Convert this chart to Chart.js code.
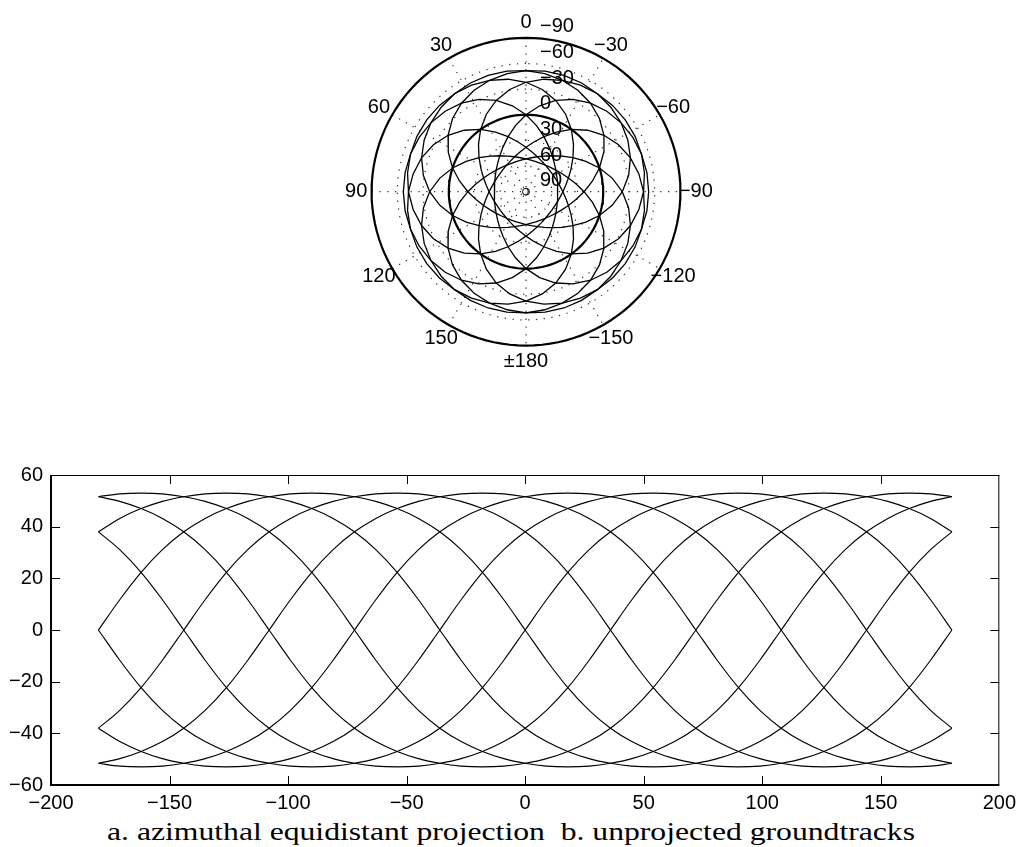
<!DOCTYPE html>
<html><head><meta charset="utf-8">
<script src="https://cdn.jsdelivr.net/npm/chart.js@4.4.1/dist/chart.umd.min.js"></script>
<style>
html,body{margin:0;padding:0;background:#fff;width:1022px;height:847px;overflow:hidden;}
#polar{position:absolute;left:306px;top:0;}
#track{position:absolute;left:0;top:455px;}
#caption{position:absolute;top:818.6px;left:0;font-family:'Liberation Serif','Times New Roman',serif;font-size:25px;line-height:25px;white-space:pre;color:#000;transform-origin:center center;}
</style></head><body>
<canvas id="polar" width="440" height="384"></canvas>
<canvas id="track" width="1022" height="360"></canvas>
<div id="caption">a. azimuthal equidistant projection  b. unprojected groundtracks</div>
<script>
// ---------- data ----------
const lonGrid = [-180,-171,-162,-153,-144,-135,-126,-117,-108,-99,-90,-81,-72,-63,-54,-45,-36,-27,-18,-9,0,9,18,27,36,45,54,63,72,81,90,99,108,117,126,135,144,153,162,171,180];
// ascending-node longitudes of the ten groundtracks
const nodeLongitudes = [-180,-144,-108,-72,-36,0,36,72,108,144];
// latitude along a track, every 9 degrees of longitude after its ascending node
const latProfile = [0,11.7,22.3,31.1,38.0,43.2,47.0,49.8,51.6,52.7,53.0,52.7,51.6,49.8,47.0,43.2,38.0,31.1,22.3,11.7,
                    0,-11.7,-22.3,-31.1,-38.0,-43.2,-47.0,-49.8,-51.6,-52.7,-53.0,-52.7,-51.6,-49.8,-47.0,-43.2,-38.0,-31.1,-22.3,-11.7];
const xTicks = [-200,-150,-100,-50,0,50,100,150,200];
const yTicks = [-60,-40,-20,0,20,40,60];
const angleLabels = ['0','30','60','90','120','150','\u00b1180','\u2212150','\u2212120','\u221290','\u221260','\u221230'];
const angleLabelLon = [0,30,60,90,120,150,180,210,240,270,300,330];
const radialLabels = ['90','60','30','0','\u221230','\u221260','\u221290'];
const radialLabelLat = [90,60,30,0,-30,-60,-90];
const gridLat = [60,30,0,-30,-60];
const spokeLon = [0,30,60,90,120,150];
const equatorLat = 0;
const boundaryLat = -90;

// ---------- build tables ----------
const STEP = 9;
function profileAt(lon, node){
  const n = latProfile.length;
  const i = ((Math.round((lon - node)/STEP) % n) + n) % n;
  return latProfile[i];
}
const tracks = nodeLongitudes.map(node => lonGrid.map(lon => ({lon: lon, lat: profileAt(lon, node)})));

function toXY(lon, lat){
  const r = 90 - lat, t = lon*Math.PI/180;
  return {x: -r*Math.sin(t), y: r*Math.cos(t)};
}
function circle(lat){
  const pts = [];
  for (let a = 0; a <= 360; a += 3) pts.push(toXY(a, lat));
  return pts;
}
const fmt = v => (v < 0 ? '\u2212' + Math.abs(v) : String(v));
const FONT = '"Liberation Sans", Arial, Helvetica, sans-serif';

// ---------- polar (azimuthal equidistant) ----------
const K = 0.8778; // px per degree
const pDatasets = [];
tracks.forEach(t => pDatasets.push({data: t.map(p => toXY(p.lon, p.lat)), showLine:true, borderColor:'#000', borderWidth:1.3, pointRadius:0, fill:false, tension:0}));
pDatasets.push({data: circle(equatorLat), showLine:true, borderColor:'#000', borderWidth:2.2, pointRadius:0, fill:false});
pDatasets.push({data: circle(boundaryLat), showLine:true, borderColor:'#000', borderWidth:2.2, pointRadius:0, fill:false});
pDatasets.push({data:[{x:0,y:0}], showLine:false, pointRadius:3.5, pointBorderWidth:1, pointBorderColor:'#000', pointBackgroundColor:'rgba(0,0,0,0)'});
gridLat.forEach(lat => pDatasets.push({data: circle(lat), showLine:true, borderColor:'#333', borderWidth:1.2, borderDash:[1.3,6.5], pointRadius:0, fill:false}));
spokeLon.forEach(a => pDatasets.push({data:[toXY(a, boundaryLat), toXY(a+180, boundaryLat)], showLine:true, borderColor:'#333', borderWidth:1.2, borderDash:[1.3,6.5], pointRadius:0, fill:false}));

const polarLabels = {
  id:'polarLabels',
  afterDraw(chart){
    const ctx = chart.ctx, xs = chart.scales.x, ys = chart.scales.y;
    ctx.save();
    ctx.fillStyle = '#000';
    ctx.font = '20px ' + FONT;
    ctx.textAlign = 'center'; ctx.textBaseline = 'middle';
    angleLabels.forEach((s, i) => {
      const t = angleLabelLon[i]*Math.PI/180, R = 198;
      ctx.fillText(s, xs.getPixelForValue(-R*Math.sin(t)), ys.getPixelForValue(R*Math.cos(t)));
    });
    ctx.textAlign = 'left'; ctx.textBaseline = 'alphabetic';
    radialLabels.forEach((s, i) => {
      const r = 90 - radialLabelLat[i];
      ctx.fillText(s, xs.getPixelForValue(0) + 14, ys.getPixelForValue(r + 6.5));
    });
    ctx.restore();
  }
};

new Chart(document.getElementById('polar'), {
  type:'scatter',
  data:{datasets:pDatasets},
  options:{
    responsive:false, animation:false, events:[],
    layout:{padding:0},
    plugins:{legend:{display:false}, tooltip:{enabled:false}},
    scales:{
      x:{type:'linear', display:false, min:-220/K, max:220/K},
      y:{type:'linear', display:false, min:-(384-191.7)/K, max:191.7/K}
    }
  },
  plugins:[polarLabels]
});

// ---------- unprojected groundtracks ----------
const boxPlugin = {
  id:'box',
  afterDraw(chart){
    const ctx = chart.ctx, a = chart.chartArea, xs = chart.scales.x, ys = chart.scales.y;
    ctx.save();
    ctx.strokeStyle = '#000';
    ctx.lineWidth = 1;
    ctx.beginPath();
    ctx.moveTo(a.left, a.top + 0.5); ctx.lineTo(a.right, a.top + 0.5);
    ctx.moveTo(a.right - 0.5, a.top); ctx.lineTo(a.right - 0.5, a.bottom);
    xTicks.slice(1, -1).forEach(v => {
      const p = Math.round(xs.getPixelForValue(v)) + 0.5;
      ctx.moveTo(p, a.bottom); ctx.lineTo(p, a.bottom - 9);
      ctx.moveTo(p, a.top); ctx.lineTo(p, a.top + 9);
    });
    yTicks.slice(1, -1).forEach(v => {
      const p = Math.round(ys.getPixelForValue(v)) + 0.5;
      ctx.moveTo(a.left, p); ctx.lineTo(a.left + 9, p);
      ctx.moveTo(a.right, p); ctx.lineTo(a.right - 9, p);
    });
    ctx.stroke();
    ctx.lineWidth = 2;
    ctx.beginPath();
    ctx.moveTo(a.left, a.top); ctx.lineTo(a.left, a.bottom + 1);
    ctx.moveTo(a.left - 1, a.bottom); ctx.lineTo(a.right, a.bottom);
    ctx.stroke();
    ctx.restore();
  }
};

new Chart(document.getElementById('track'), {
  type:'scatter',
  data:{datasets: tracks.map(t => ({data: t.map(p => ({x:p.lon, y:p.lat})), showLine:true, borderColor:'#000', borderWidth:1.15, pointRadius:0, fill:false, cubicInterpolationMode:'monotone'}))},
  options:{
    responsive:false, animation:false, events:[],
    layout:{padding:{top:13, right:19, left:0, bottom:0}},
    plugins:{legend:{display:false}, tooltip:{enabled:false}},
    scales:{
      x:{type:'linear', min:-200, max:200,
         afterBuildTicks: s => { s.ticks = xTicks.map(v => ({value:v})); },
         afterFit: s => { s.height = 30; },
         grid:{display:false, drawTicks:false}, border:{display:false},
         ticks:{padding:6, color:'#000', font:{family:FONT, size:20}, maxRotation:0, autoSkip:false, callback: v => fmt(v)}},
      y:{type:'linear', min:-60, max:60,
         afterBuildTicks: s => { s.ticks = yTicks.map(v => ({value:v})); },
         afterFit: s => { s.width = 51; },
         grid:{display:false, drawTicks:false}, border:{display:false},
         ticks:{padding:8, color:'#000', font:{family:FONT, size:20}, autoSkip:false, callback: v => fmt(v)}}
    }
  },
  plugins:[boxPlugin]
});

// ---------- caption ----------
const cap = document.getElementById('caption');
const w = cap.getBoundingClientRect().width;
cap.style.left = (511 - w/2) + 'px';
cap.style.transform = 'scaleX(' + (808/w).toFixed(4) + ')';
</script>
</body></html>
